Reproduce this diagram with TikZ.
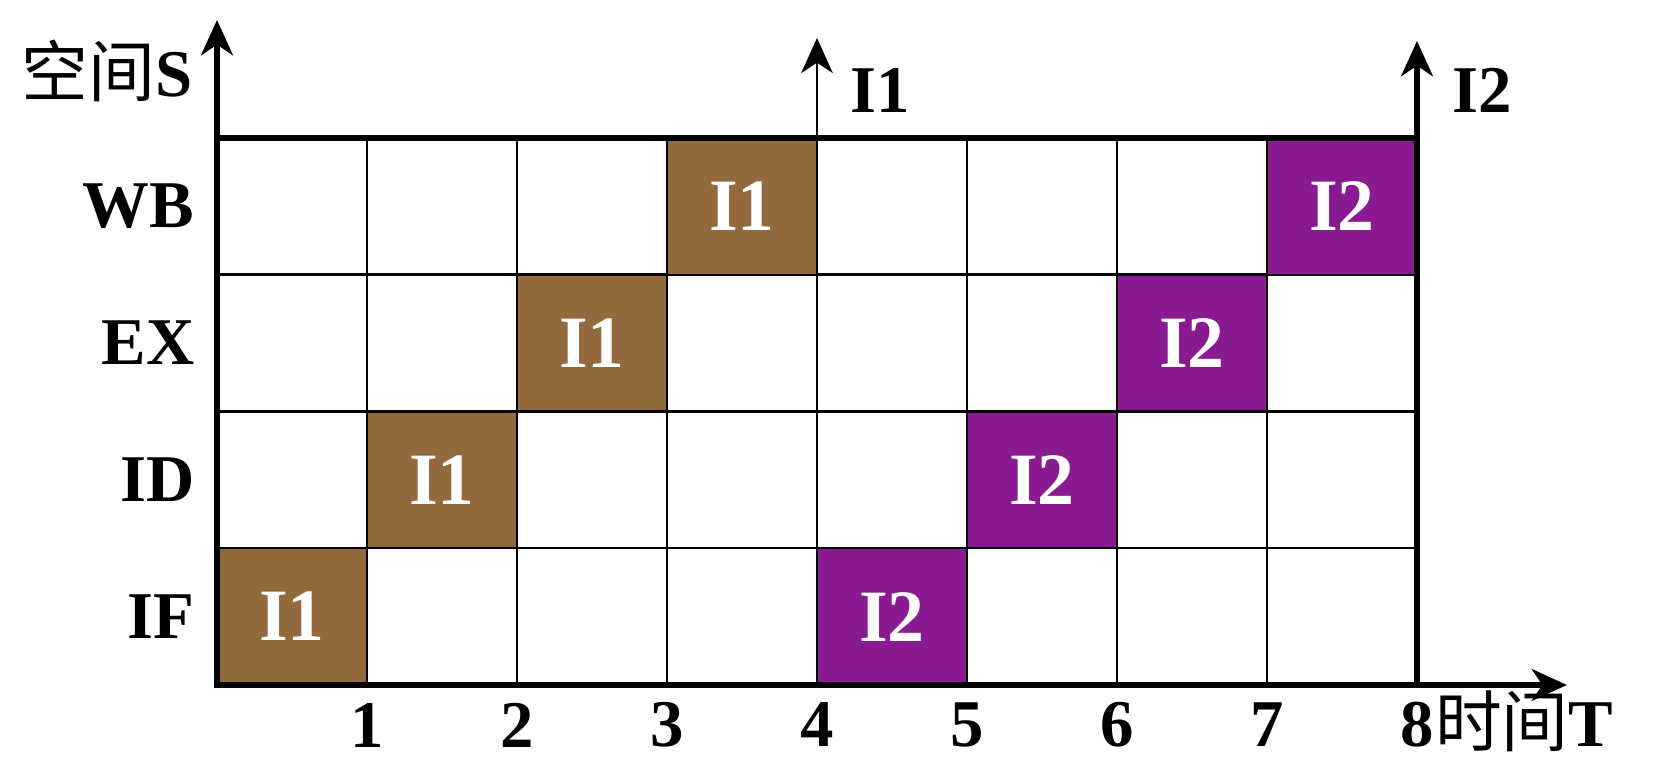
\documentclass[tikz,border=0pt]{standalone}
\usepackage{fontspec}
\setmainfont{Liberation Serif}
\newfontfamily\cjk{Noto Sans CJK SC}
\usetikzlibrary{arrows.meta, positioning}
\definecolor{stagebrown}{HTML}{936A3E}
\definecolor{stagepurple}{HTML}{8A1A92}

\begin{document}
\begin{tikzpicture}[
  gridline/.style={line width=0.7pt},
  cellbox/.style={draw=black, line width=0.7pt, minimum width=1.5cm, minimum height=1.3675cm,
    inner sep=0pt, text=white, font=\fontsize{21}{25}\selectfont\bfseries},
  lbl/.style={inner sep=0pt, font=\fontsize{19}{23}\selectfont\bfseries},
  axis/.style={line width=1.9pt},
  tip/.style={-{Stealth[length=10pt, width=9pt, inset=3pt]}}]
  \useasboundingbox (-2.17,-0.87) rectangle (14.37,6.85);
  \coordinate (o) at (0,0);
  \coordinate (tl) at (0,5.47);
  \coordinate (tr) at (12,5.47);
  \coordinate (br) at (12,0);
  \coordinate (stip) at (0,6.65);
  \coordinate (ttip) at (13.5,0);
  \coordinate (i1base) at (6,5.47);
  \coordinate (i1tip) at (6,6.47);
  \coordinate (i2tip) at (12,6.44);
  % grid of stages
  \draw[gridline] (o) grid[xstep=1.5, ystep=1.3675] (tr);
  % instruction I1
  \node[cellbox, fill=stagebrown] (i1if) at (0.75,0.684) {I1};
  \node[cellbox, fill=stagebrown] (i1id) at (2.25,2.051) {I1};
  \node[cellbox, fill=stagebrown] (i1ex) at (3.75,3.419) {I1};
  \node[cellbox, fill=stagebrown] (i1wb) at (5.25,4.786) {I1};
  % instruction I2
  \node[cellbox, fill=stagepurple] (i2if) at (6.75,0.684) {I2};
  \node[cellbox, fill=stagepurple] (i2id) at (8.25,2.051) {I2};
  \node[cellbox, fill=stagepurple] (i2ex) at (9.75,3.419) {I2};
  \node[cellbox, fill=stagepurple] (i2wb) at (11.25,4.786) {I2};
  % axes
  \draw[axis, {Stealth[length=10pt, width=9pt, inset=3pt]}-{Stealth[length=10pt, width=9pt, inset=3pt]}]
    (stip) -- (o) -- (ttip);
  \draw[axis] (tl) -- (tr);
  \draw[axis, tip] (br) -- (i2tip);
  \draw[gridline, tip] (i1base) -- (i1tip);
  % labels
  \node[lbl] (space) at (-1.10,6.14) {{\cjk\mdseries 空间}S};
  \node[lbl] (i1lbl) at (6.63,5.95) {I1};
  \node[lbl] (i2lbl) at (12.65,5.95) {I2};
  \node[lbl, anchor=east] (wb) at (-0.22,4.786) {WB};
  \node[lbl, anchor=east] (ex) at (-0.22,3.419) {EX};
  \node[lbl, anchor=east] (id) at (-0.22,2.051) {ID};
  \node[lbl, anchor=east] (if) at (-0.22,0.684) {IF};
  \foreach \k in {1,...,8}
    \node[lbl] (t\k) at (1.5*\k,-0.40) {\k};
  \node[lbl, anchor=base west] (time) at (t8.base east) {{\cjk\mdseries 时间}T};
\end{tikzpicture}
\end{document}
